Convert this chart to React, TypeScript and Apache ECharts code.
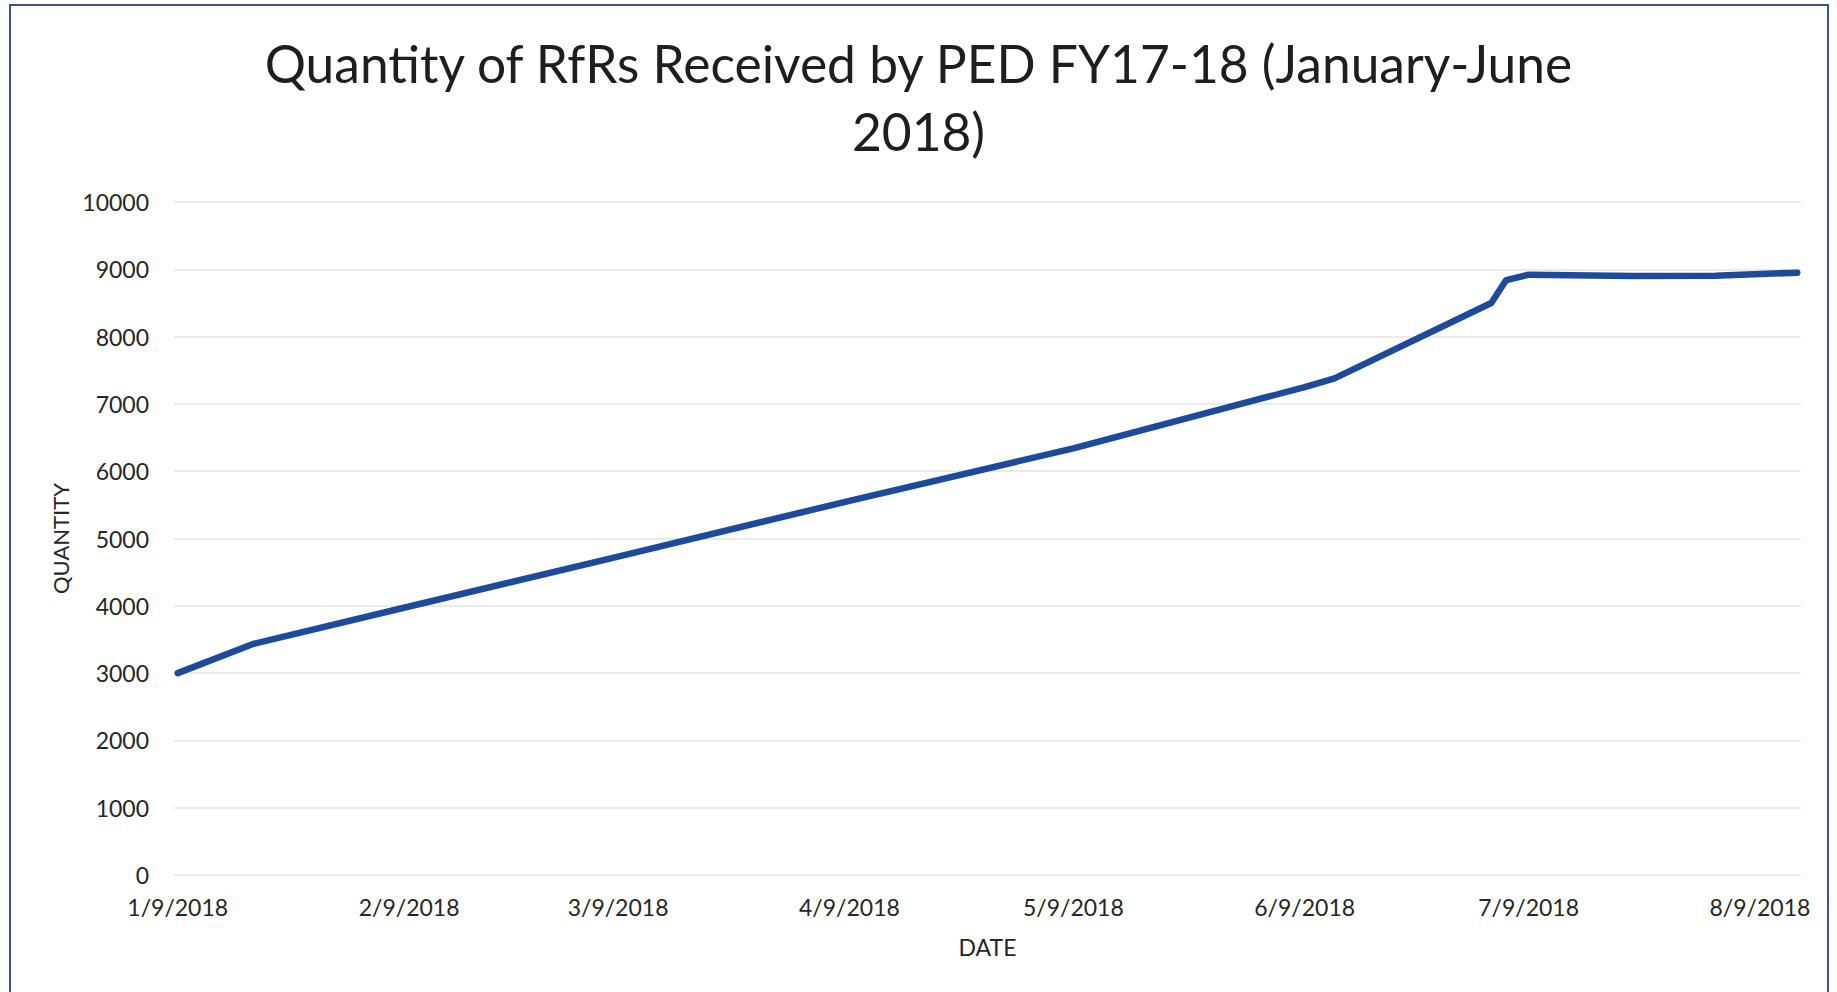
import React, { useEffect, useRef } from "react";
import * as echarts from "echarts";

const titleLines = ["Quantity of RfRs Received by PED FY17-18 (January-June", "2018)"];
const xAxisName = "DATE";
const yAxisName = "QUANTITY";

// observation dates (M/D/YYYY) and cumulative quantities
const dates = [
  "1/9/2018", "1/19/2018", "2/9/2018", "3/9/2018", "4/9/2018", "5/9/2018",
  "6/9/2018", "6/13/2018", "7/4/2018", "7/6/2018", "7/9/2018", "7/23/2018",
  "8/3/2018", "8/14/2018",
];
const quantities = [3000, 3430, 3990, 4730, 5560, 6340, 7250, 7380, 8500, 8840, 8920, 8900, 8905, 8950];

const xTickLabels = ["1/9/2018", "2/9/2018", "3/9/2018", "4/9/2018", "5/9/2018", "6/9/2018", "7/9/2018", "8/9/2018"];
const yMin = 0;
const yMax = 10000;
const yStep = 1000;

const DAY = 24 * 3600 * 1000;
const toTs = (s: string) => {
  const [m, d, y] = s.split("/").map(Number);
  return new Date(y, m - 1, d).getTime();
};
const fmt = (v: number) => {
  const d = new Date(v + 2 * 3600 * 1000);
  return `${d.getMonth() + 1}/${d.getDate()}/${d.getFullYear()}`;
};

export default function App() {
  const ref = useRef<HTMLDivElement>(null);
  useEffect(() => {
    if (!ref.current) return;
    const chart = echarts.init(ref.current, undefined, { renderer: "svg" });
    const font = "Lato, 'Open Sans', sans-serif";
    const base = toTs(dates[0]);
    // x in days since the first date
    const dayOf = (s: string) => Math.round((toTs(s) - base) / DAY);
    const dayLabel = (v: number) => fmt(base + v * DAY);
    const tickDays = xTickLabels.map(dayOf);
    chart.setOption({
      animation: false,
      backgroundColor: "#ffffff",
      title: {
        text: titleLines.join("\n"),
        left: "center",
        top: 24,
        textStyle: {
          fontFamily: font,
          fontSize: 51.5,
          fontWeight: "normal",
          lineHeight: 68,
          color: "#1e1e1e",
        },
      },
      grid: { left: 174, right: 36, top: 202, bottom: 117, containLabel: false },
      xAxis: {
        type: "value",
        min: -0.5,
        max: dayOf(dates[dates.length - 1]) + 0.5,
        name: xAxisName,
        nameLocation: "middle",
        nameGap: 60,
        nameTextStyle: { fontFamily: font, fontSize: 23, color: "#262626" },
        axisLine: { show: false },
        axisTick: { show: false },
        splitLine: { show: false },
        axisLabel: {
          customValues: tickDays,
          formatter: (v: number) => dayLabel(v),
          fontFamily: font,
          fontSize: 23,
          color: "#262626",
          margin: 20,
          showMinLabel: true,
          showMaxLabel: true,
        },
      },
      yAxis: {
        type: "value",
        min: yMin,
        max: yMax,
        interval: yStep,
        name: yAxisName,
        nameLocation: "middle",
        nameGap: 98,
        nameTextStyle: { fontFamily: font, fontSize: 22, color: "#262626" },
        axisLine: { show: false },
        axisTick: { show: false },
        splitLine: { show: true, lineStyle: { color: "#e4e4e4", width: 1.5 } },
        axisLabel: {
          formatter: (v: number) => String(v),
          fontFamily: font,
          fontSize: 23,
          color: "#262626",
          margin: 25,
        },
      },
      graphic: [
        {
          type: "rect",
          shape: { x: 10, y: 5, width: 1818, height: 1010 },
          style: { fill: "none", stroke: "#3d4f95", lineWidth: 2 },
          silent: true,
        },
      ],
      series: [
        {
          type: "line",
          data: dates.map((d, i) => [dayOf(d), quantities[i]]),
          showSymbol: false,
          symbol: "none",
          smooth: false,
          lineStyle: { color: "#1d4a9a", width: 6.5, cap: "round", join: "round" },
        },
      ],
    });
    return () => chart.dispose();
  }, []);
  return (
    <div
      ref={ref}
      style={{ position: "fixed", left: 0, top: 0, width: 1837, height: 992 }}
    />
  );
}
